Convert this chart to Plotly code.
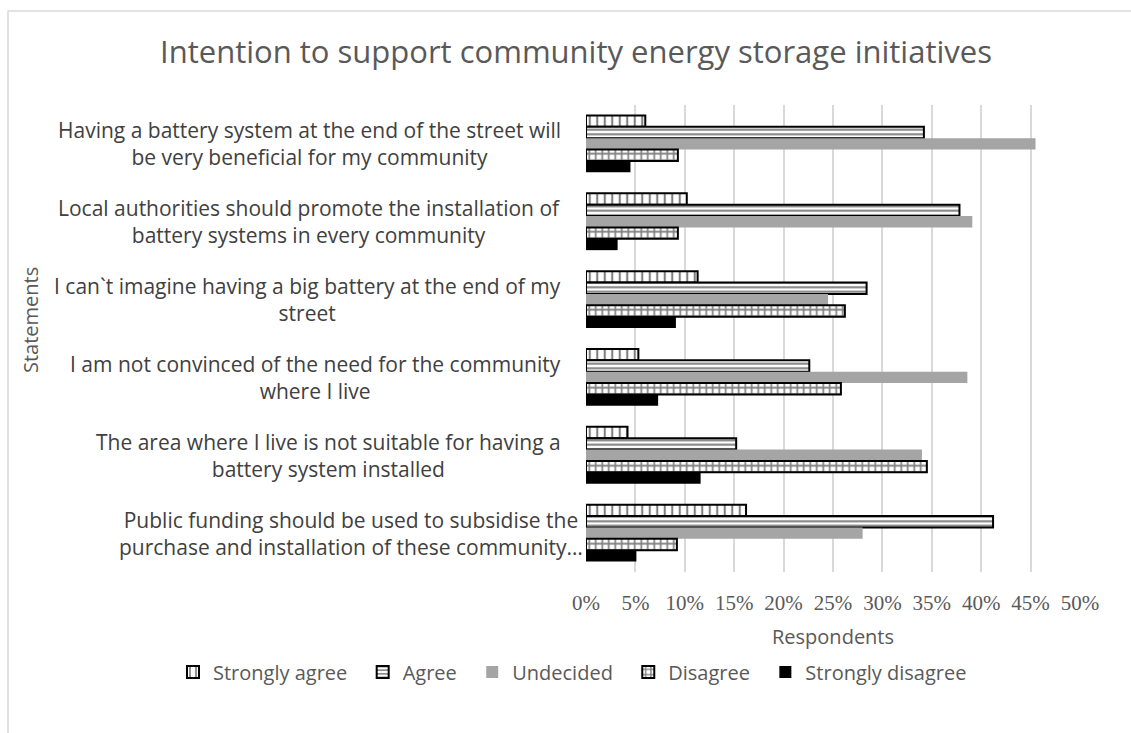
import plotly.graph_objects as go

# Survey statements (top to bottom) and the share of respondents per answer
statements = [
    ["Having a battery system at the end of the street will", "be very beneficial for my community"],
    ["Local authorities should promote the installation of", "battery systems in every community"],
    ["I can`t imagine having a big battery at the end of my", "street"],
    ["I am not convinced of the need for the community", "where I live"],
    ["The area where I live is not suitable for having a", "battery system installed"],
    ["Public funding should be used to subsidise the", "purchase and installation of these community…"],
]
categories = ["S1", "S2", "S3", "S4", "S5", "S6"]

answers = ["Strongly agree", "Agree", "Undecided", "Disagree", "Strongly disagree"]
strongly_agree = [0.060, 0.102, 0.113, 0.053, 0.042, 0.162]
agree = [0.342, 0.378, 0.284, 0.226, 0.152, 0.412]
undecided = [0.455, 0.391, 0.245, 0.386, 0.340, 0.280]
disagree = [0.093, 0.093, 0.262, 0.258, 0.345, 0.092]
strongly_disagree = [0.045, 0.032, 0.091, 0.073, 0.116, 0.051]

tick_vals = [0, 0.05, 0.10, 0.15, 0.20, 0.25, 0.30, 0.35, 0.40, 0.45, 0.50]
tick_text = ["0%", "5%", "10%", "15%", "20%", "25%", "30%", "35%", "40%", "45%", "50%"]

W, H = 1131, 733
L, R, T, B = 586, 51, 105, 161
PW, PH = W - L - R, H - T - B


def px_x(x):
    return (x - L) / PW


def px_y(y):
    return (H - B - y) / PH


markers = [
    dict(color="white", line=dict(color="black", width=2),
         pattern=dict(shape="|", fgcolor="black", bgcolor="white", size=7.5, solidity=0.28)),
    dict(color="white", line=dict(color="black", width=2),
         pattern=dict(shape="-", fgcolor="black", bgcolor="white", size=4.5, solidity=0.45)),
    dict(color="#a5a5a5", line=dict(width=0)),
    dict(color="white", line=dict(color="black", width=2),
         pattern=dict(shape="+", fgcolor="black", bgcolor="white", size=6.5, solidity=0.45)),
    dict(color="black", line=dict(width=0)),
]
values = [strongly_agree, agree, undecided, disagree, strongly_disagree]

fig = go.Figure()
for i, (name, vals, marker) in enumerate(zip(answers, values, markers)):
    # a little trailing room widens the gap between legend entries
    label = name + ("\u00a0\u00a0" if i < len(answers) - 1 else "")
    fig.add_trace(go.Bar(
        name=label, x=vals, y=categories, orientation="h", marker=marker,
        hovertemplate="%{x:.1%}<extra>" + name + "</extra>",
    ))

# Two-line statement labels, centred on each other, ending just left of the axis
annotations = []
for i, (cat, lines) in enumerate(zip(categories, statements)):
    right_px = 585 if i == len(categories) - 1 else 563
    annotations.append(dict(
        x=px_x(right_px), xref="paper", xanchor="right",
        y=cat, yref="y", yanchor="middle",
        text="<br>".join(lines), align="center", showarrow=False,
        font=dict(family="Open Sans", size=21, color="#404040"),
    ))

annotations.append(dict(
    x=px_x(30), xref="paper", y=px_y(320), yref="paper", textangle=-90,
    text="Statements", showarrow=False, xanchor="center", yanchor="middle",
    font=dict(family="Open Sans", size=20, color="#595959"),
))
annotations.append(dict(
    x=0.5, xref="paper", y=px_y(636), yref="paper",
    text="Respondents", showarrow=False, xanchor="center", yanchor="middle",
    font=dict(family="Open Sans", size=20, color="#595959"),
))

fig.update_layout(
    width=W, height=H,
    margin=dict(l=L, r=R, t=T, b=B),
    paper_bgcolor="white", plot_bgcolor="white",
    barmode="group", bargap=0.27, bargroupgap=0,
    title=dict(
        text="Intention to support community energy storage initiatives",
        x=576 / W, xanchor="center", y=1 - 52 / H, yanchor="middle",
        font=dict(family="Open Sans", size=31, color="#595959"),
    ),
    xaxis=dict(
        range=[0, 0.5], tickvals=tick_vals, ticktext=tick_text,
        showgrid=True, gridcolor="#d9d9d9", gridwidth=2,
        zeroline=False, showline=False, ticks="", ticklabelstandoff=16,
        tickfont=dict(family="Liberation Serif", size=21, color="#595959"),
        fixedrange=True,
    ),
    yaxis=dict(
        autorange="reversed", showticklabels=False, showgrid=False,
        zeroline=False, showline=False, ticks="", fixedrange=True,
    ),
    legend=dict(
        orientation="h",
        x=px_x(173), xanchor="left", y=px_y(672), yanchor="middle",
        font=dict(family="Open Sans", size=20, color="#595959"),
        traceorder="normal",
    ),
    annotations=annotations,
    shapes=[dict(
        type="rect", xref="paper", yref="paper",
        x0=px_x(8), x1=px_x(1145), y0=px_y(11), y1=px_y(750),
        line=dict(color="#d9d9d9", width=1.5), fillcolor="rgba(0,0,0,0)",
        layer="below",
    )],
)

fig.write_html("out.html")
